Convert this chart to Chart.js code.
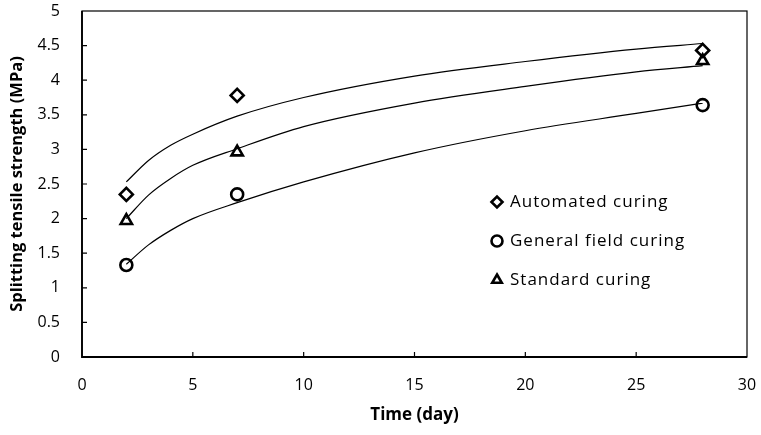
<!DOCTYPE html>
<html>
<head>
<meta charset="utf-8">
<script src="https://cdn.jsdelivr.net/npm/chart.js@4"></script>
<style>
html,body{margin:0;padding:0;background:#fff;}
#wrap{width:761px;height:435px;}
</style>
</head>
<body>
<div id="wrap"><canvas id="c" width="761" height="435"></canvas></div>
<script>
// Measured points (day, MPa)
const days = [2, 7, 28];
const automated = [2.35, 3.78, 4.43];
const generalField = [1.33, 2.35, 3.64];
const standard = [1.97, 2.96, 4.28];

// Trend curves
const curveDays = [2, 3, 4, 5, 7, 10, 15, 20, 25, 28];
const automatedCurve = [2.53, 2.84, 3.06, 3.22, 3.48, 3.75, 4.06, 4.27, 4.45, 4.53];
const standardCurve = [2.00, 2.34, 2.58, 2.77, 3.01, 3.33, 3.67, 3.91, 4.12, 4.21];
const generalCurve = [1.34, 1.62, 1.83, 2.00, 2.23, 2.53, 2.95, 3.27, 3.52, 3.67];

const xTicks = [0, 5, 10, 15, 20, 25, 30];
const yTicks = [0, 0.5, 1, 1.5, 2, 2.5, 3, 3.5, 4, 4.5, 5];

const labels = ['Automated curing', 'General field curing', 'Standard curing'];

const pts = (xs, ys) => xs.map((x, i) => ({x: x, y: ys[i]}));
const FONT = "'Open Sans', 'DejaVu Sans', sans-serif";

const curveStyle = {type: 'line', showLine: true, pointRadius: 0, borderColor: '#000', borderWidth: 1.2, fill: false, cubicInterpolationMode: 'monotone'};
const markerStyle = {type: 'scatter', showLine: false, borderColor: '#000', backgroundColor: 'rgba(0,0,0,0)', borderWidth: 2.6};

const boxPlugin = {
  id: 'boxAndTicks',
  afterDraw(chart) {
    const ctx = chart.ctx, a = chart.chartArea;
    const xs = chart.scales.x, ys = chart.scales.y;
    ctx.save();
    ctx.strokeStyle = '#000';
    ctx.lineWidth = 1.2;
    ctx.strokeRect(a.left, a.top, a.right - a.left, a.bottom - a.top);
    ctx.lineWidth = 1.8;
    ctx.beginPath();
    ctx.moveTo(a.left, a.top); ctx.lineTo(a.left, a.bottom); ctx.lineTo(a.right, a.bottom);
    ctx.stroke();
    ctx.lineWidth = 1.2;
    ctx.beginPath();
    xTicks.forEach(v => { const p = xs.getPixelForValue(v); if (v > 0 && v < 30) { ctx.moveTo(p, a.bottom); ctx.lineTo(p, a.bottom - 5); } });
    yTicks.forEach(v => { const p = ys.getPixelForValue(v); if (v > 0 && v < 5) { ctx.moveTo(a.left, p); ctx.lineTo(a.left + 5, p); } });
    ctx.stroke();
    // legend inside plot area
    const lx = 497, ly0 = 202, gap = 39;
    const styles = ['rectRot', 'circle', 'triangle'];
    labels.forEach((t, i) => {
      const y = ly0 + i * gap;
      ctx.lineWidth = 2.6;
      ctx.fillStyle = 'rgba(0,0,0,0)';
      ctx.strokeStyle = '#000';
      Chart.helpers.drawPoint(ctx, {pointStyle: styles[i], radius: 5.5, rotation: 0, borderWidth: 2.6}, lx, y);
      ctx.font = "17px " + FONT;
      ctx.fillStyle = '#000';
      ctx.textBaseline = 'middle';
      ctx.textAlign = 'left';
      if ('letterSpacing' in ctx) ctx.letterSpacing = '1px';
      ctx.fillText(t, lx + 13, y);
      if ('letterSpacing' in ctx) ctx.letterSpacing = '0px';
    });
    ctx.restore();
  }
};

new Chart(document.getElementById('c'), {
  data: {
    datasets: [
      Object.assign({label: labels[0] + ' trend', data: pts(curveDays, automatedCurve)}, curveStyle),
      Object.assign({label: labels[2] + ' trend', data: pts(curveDays, standardCurve)}, curveStyle),
      Object.assign({label: labels[1] + ' trend', data: pts(curveDays, generalCurve)}, curveStyle),
      Object.assign({label: labels[0], data: pts(days, automated), pointStyle: 'rectRot', pointRadius: 6.5}, markerStyle),
      Object.assign({label: labels[1], data: pts(days, generalField), pointStyle: 'circle', pointRadius: 6}, markerStyle),
      Object.assign({label: labels[2], data: pts(days, standard), pointStyle: 'triangle', pointRadius: 6.5}, markerStyle)
    ]
  },
  options: {
    responsive: false,
    animation: false,
    devicePixelRatio: 1,
    layout: {padding: {top: 11, right: 14, left: 0, bottom: 0}},
    plugins: {legend: {display: false}, tooltip: {enabled: false}},
    scales: {
      x: {
        type: 'linear', min: 0, max: 30,
        afterBuildTicks: s => { s.ticks = xTicks.map(v => ({value: v})); },
        afterFit: s => { s.height = 78; s.paddingLeft = 0; s.paddingRight = 0; },
        grid: {display: false, drawTicks: false},
        border: {display: false},
        ticks: {color: '#000', padding: 19, font: {family: FONT, size: 16}, callback: v => String(v)},
        title: {display: true, text: 'Time (day)', color: '#000', padding: {top: 0, bottom: 10}, font: {family: FONT, size: 17, weight: 'bold'}}
      },
      y: {
        type: 'linear', min: 0, max: 5,
        afterBuildTicks: s => { s.ticks = yTicks.map(v => ({value: v})); },
        afterFit: s => { s.width = 82; s.paddingTop = 0; s.paddingBottom = 0; },
        grid: {display: false, drawTicks: false},
        border: {display: false},
        ticks: {color: '#000', padding: 22, font: {family: FONT, size: 16}, callback: v => String(v)},
        title: {display: true, text: 'Splitting tensile strength (MPa)', color: '#000', padding: {top: 7, bottom: 0}, font: {family: FONT, size: 16.5, weight: 'bold'}}
      }
    }
  },
  plugins: [boxPlugin]
});
</script>
</body>
</html>
